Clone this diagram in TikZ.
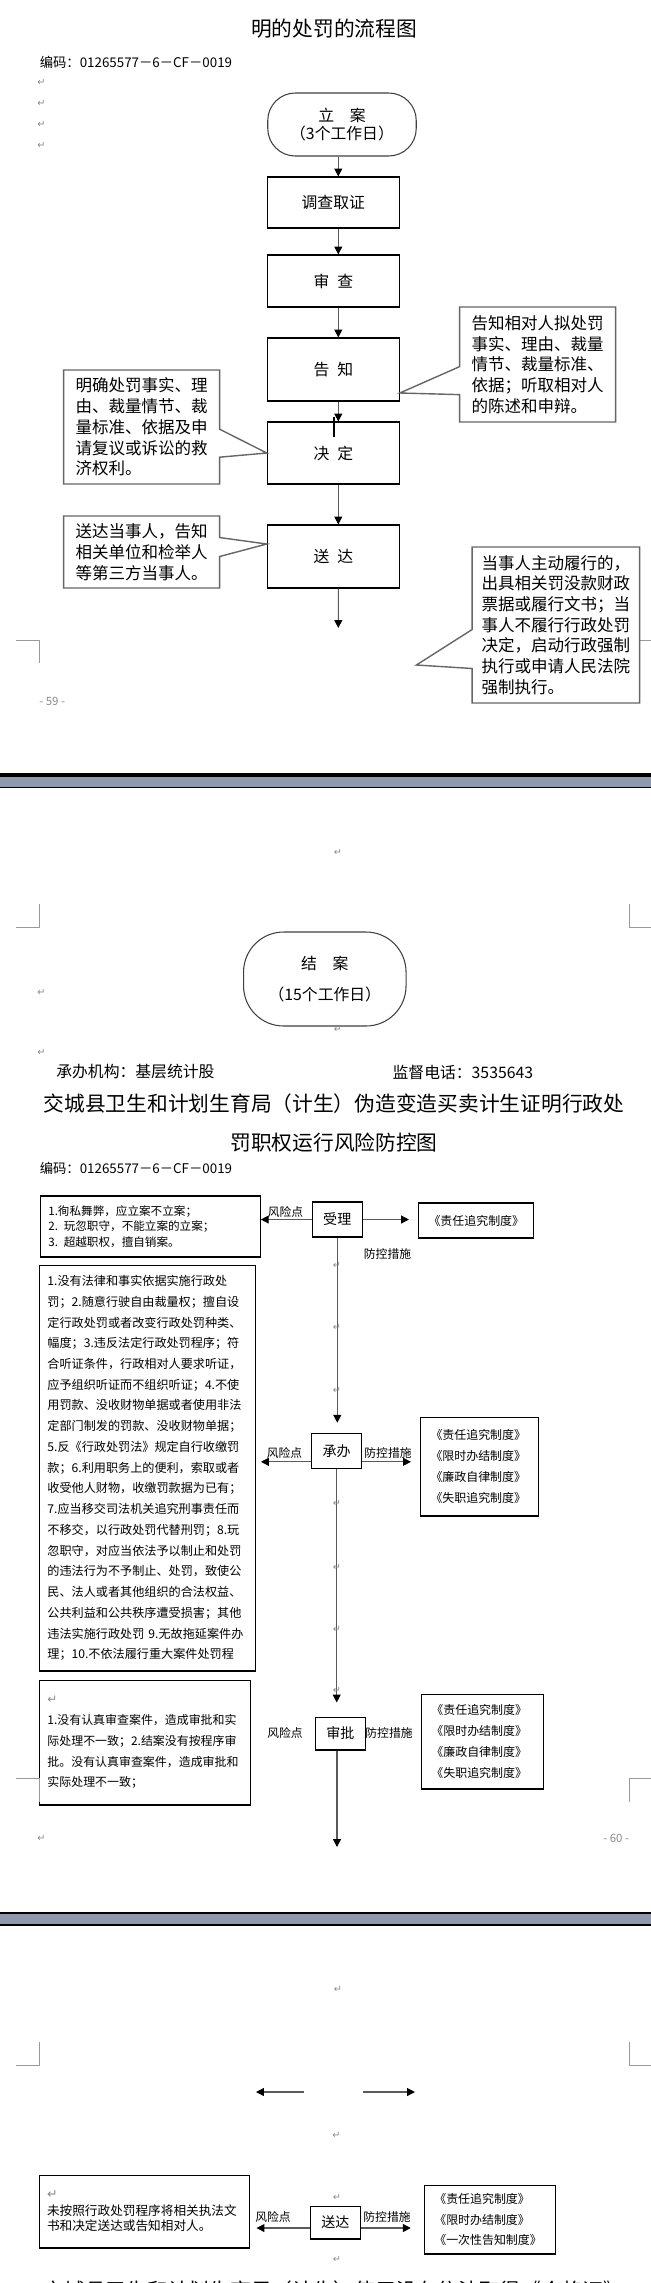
\documentclass[tikz,border=0pt]{standalone}
\usepackage{fontspec}
\setmainfont{Noto Sans CJK SC}
\newfontfamily\retfont{DejaVu Sans}
\usetikzlibrary{arrows.meta,positioning,shapes.callouts,calc}
\definecolor{pgline}{HTML}{5A5A5A}
\definecolor{pgband}{HTML}{8F99AD}
\definecolor{retgray}{HTML}{8A8A8A}
\definecolor{cropgray}{HTML}{9A9A9A}
\newcommand{\retmark}{{\retfont ↵}}
\tikzset{
  flowbox/.style={draw=black, line width=0.6pt, minimum width=2.64cm,
    align=center, font=\fontsize{9}{10.5}\selectfont, inner sep=1pt},
  endbox/.style={draw=black!75, line width=0.6pt, align=center,
    font=\fontsize{9}{10.5}\selectfont},
  flowarr/.style={draw=pgline, line width=0.6pt,
    -{Triangle[length=4.5pt,width=4.5pt,color=black]}},
  callbox/.style={rectangle callout, draw=black!60, line width=0.8pt,
    fill=white, align=left, font=\fontsize{9.4}{11.8}\selectfont, inner sep=2pt},
  riskbox/.style={draw=black, line width=0.6pt, align=left,
    inner xsep=0.16cm, inner ysep=2pt},
  ctrlbox/.style={draw=black, line width=0.6pt, align=left,
    inner xsep=0.2cm, font=\fontsize{6.8}{12}\selectfont},
  stepbox/.style={draw=black, line width=0.6pt, minimum width=1cm,
    font=\fontsize{8}{10}\selectfont, inner sep=1pt},
  riskarr/.style={draw=pgline, line width=0.7pt,
    -{Triangle[length=4.5pt,width=4.5pt,color=black]}},
  tag/.style={font=\fontsize{6.7}{8}\selectfont, inner sep=0pt},
  retm/.style={font=\fontsize{5.5}{6}\selectfont, text=retgray, inner sep=0pt},
  cropmark/.style={draw=cropgray, line width=0.4pt},
  headtext/.style={font=\fontsize{8}{10}\selectfont, inner sep=0pt, anchor=west},
  titletext/.style={font=\fontsize{11.8}{14}\selectfont, inner sep=0pt}
}
\begin{document}
\begin{tikzpicture}[x=0.02cm, y=-0.02cm]
  \useasboundingbox (0,0) rectangle (651,2283);
  \fill[white] (0,0) rectangle (651,2283);
  \clip (0,0) rectangle (651,2283);

  % page 59: flow chart
  \node[titletext] (title1) at (334,29) {明的处罚的流程图};
  \node[headtext, font=\fontsize{7.6}{10}\selectfont] (code1) at (39.4,62)
    {编码：01265577－6－CF－0019};

  \node[endbox, minimum width=2.97cm, minimum height=1.26cm,
        rounded corners=0.55cm] (lian) at (342,124.5) {立　案\\（3个工作日）};
  \node[flowbox, minimum height=1.02cm] (dc) at (333.3,202.5) {调查取证};
  \node[flowbox, minimum height=1.04cm] (sc) at (333.3,281) {审\enspace 查};
  \node[flowbox, minimum height=1.26cm] (gz) at (333.3,369.5) {告\enspace 知};
  \node[flowbox, minimum height=1.24cm] (jd) at (333.3,453) {决\enspace 定};
  \node[flowbox, minimum height=1.26cm] (sd) at (333.3,556.5) {送\enspace 达};
  \coordinate (sdend) at (338.3,628);

  \draw[flowarr] ([xshift=0.1cm]dc.north |- lian.south) -- ([xshift=0.1cm]dc.north);
  \draw[flowarr] ([xshift=0.1cm]dc.south) -- ([xshift=0.1cm]sc.north);
  \draw[flowarr] ([xshift=0.1cm]sc.south) -- ([xshift=0.1cm]gz.north);
  \draw[flowarr] ([xshift=0.1cm]gz.south) -- ([xshift=0.1cm]jd.north);
  \draw[flowarr] ([xshift=0.1cm]jd.south) -- ([xshift=0.1cm]sd.north);
  \draw[flowarr] ([xshift=0.1cm]sd.south) -- (sdend);
  \draw[black, line width=1pt] (334,417) -- (334,437);

  % crop marks, bottom of page 59
  \draw[cropmark] (16,640) -- (39.4,640) -- (39.4,663);
  \draw[cropmark] (651,640) -- (629.7,640) -- (629.7,663);

  \node[callbox, minimum width=3.12cm, minimum height=2.3cm,
        callout absolute pointer={([yshift=-0.47cm]gz.east)},
        callout pointer width=0.56cm] (cgz) at (537.6,364.5)
    {告知相对人拟处罚\\事实、理由、裁量\\情节、裁量标准、\\依据；听取相对人\\的陈述和申辩。};
  \node[callbox, minimum width=3.12cm, minimum height=2.28cm,
        callout absolute pointer={(jd.west)},
        callout pointer width=0.56cm] (cjd) at (141.6,427)
    {明确处罚事实、理\\由、裁量情节、裁\\量标准、依据及申\\请复议或诉讼的救\\济权利。};
  \node[callbox, minimum width=3.12cm, minimum height=1.44cm,
        callout absolute pointer={([yshift=0.25cm]sd.west)},
        callout pointer width=0.38cm] (csd) at (141.6,552)
    {送达当事人，告知\\相关单位和检举人\\等第三方当事人。};
  \coordinate (zxtip) at (416.4,665);
  \node[callbox, minimum width=3.35cm, minimum height=3.12cm,
        callout absolute pointer={(zxtip)},
        callout pointer width=0.78cm] (czx) at (555.9,625)
    {当事人主动履行的，\\出具相关罚没款财政\\票据或履行文书；当\\事人不履行行政处罚\\决定，启动行政强制\\执行或申请人民法院\\强制执行。};

  \node[headtext, text=retgray, font=\fontsize{6.5}{8}\selectfont] (pn59) at (39,701) {- 59 -};

  % page break
  \fill[black] (0,773.3) rectangle (651,776.7);
  \fill[pgband] (0,776.7) rectangle (651,786.7);
  \draw[black, line width=0.5pt] (0,787.2) -- (651,787.2);

  % page 60
  \draw[cropmark] (16,927) -- (39.4,927) -- (39.4,904);
  \draw[cropmark] (651,927) -- (629.7,927) -- (629.7,904);

  \node[endbox, minimum width=3.25cm, minimum height=1.88cm,
        rounded corners=0.8cm] (jiean) at (324.8,979) {结　案\\[7.5pt]（15个工作日）};

  \node[headtext, font=\fontsize{9}{11}\selectfont] (unit) at (56,1072) {承办机构：基层统计股};
  \node[headtext, font=\fontsize{9}{11}\selectfont] (phone) at (392.3,1072) {监督电话：3535643};
  \node[titletext] (title2a) at (334,1104)
    {交城县卫生和计划生育局（计生）伪造变造买卖计生证明行政处};
  \node[titletext] (title2b) at (334,1143) {罚职权运行风险防控图};
  \node[headtext, font=\fontsize{7.6}{10}\selectfont] (code2) at (39.4,1168)
    {编码：01265577－6－CF－0019};

  % risk chart
  \node[stepbox, minimum height=0.7cm] (shouli) at (337.3,1219.5) {受理};
  \node[stepbox, minimum height=0.7cm] (chengban) at (336.7,1450.8) {承办};
  \node[stepbox, minimum height=0.66cm] (shenpi) at (340.4,1733.5) {审批};
  \coordinate (spend) at (337,1847);

  \node[riskbox, text width=4.08cm, minimum height=1.22cm,
        font=\fontsize{6.6}{8.8}\selectfont] (r1) at (150.3,1226.5)
    {1.徇私舞弊，应立案不立案；\\2.\enspace 玩忽职守，不能立案的立案；\\3.\enspace 超越职权，擅自销案。};
  \node[riskbox, text width=4.0cm, minimum height=8.12cm,
        font=\fontsize{6.9}{11.8}\selectfont] (r2) at (147.4,1468)
    {1.没有法律和事实依据实施行政处\\罚；2.随意行驶自由裁量权；擅自设\\定行政处罚或者改变行政处罚种类、\\幅度；3.违反法定行政处罚程序；符\\合听证条件，行政相对人要求听证，\\应予组织听证而不组织听证；4.不使\\用罚款、没收财物单据或者使用非法\\定部门制发的罚款、没收财物单据；\\5.反《行政处罚法》规定自行收缴罚\\款；6.利用职务上的便利，索取或者\\收受他人财物，收缴罚款据为已有；\\7.应当移交司法机关追究刑事责任而\\不移交，以行政处罚代替刑罚；8.玩\\忽职守，对应当依法予以制止和处罚\\的违法行为不予制止、处罚，致使公\\民、法人或者其他组织的合法权益、\\公共利益和公共秩序遭受损害；其他\\违法实施行政处罚~9.无故拖延案件办\\理；10.不依法履行重大案件处罚程};
  \node[riskbox, text width=3.9cm, minimum height=2.5cm,
        font=\fontsize{6.8}{11.8}\selectfont] (r3) at (144.9,1742.5)
    {{\color{retgray}\retmark}\\1.没有认真审查案件，造成审批和实\\际处理不一致；2.结案没有按程序审\\批。没有认真审查案件，造成审批和\\实际处理不一致；};

  \node[ctrlbox, text width=1.9cm, minimum height=0.7cm] (c1) at (476,1220.5)
    {《责任追究制度》};
  \node[ctrlbox, text width=1.96cm, minimum height=1.98cm] (c2) at (479.5,1466.5)
    {《责任追究制度》\\《限时办结制度》\\《廉政自律制度》\\《失职追究制度》};
  \node[ctrlbox, text width=2.04cm, minimum height=1.9cm] (c3) at (482.4,1741.5)
    {《责任追究制度》\\《限时办结制度》\\《廉政自律制度》\\《失职追究制度》};

  \draw[riskarr] (shouli.west) -- (shouli.west -| r1.east);
  \draw[riskarr, shorten >=0.18cm] (shouli.east) -- (shouli.east -| c1.west);
  \draw[riskarr, shorten >=0.2cm] (shouli.south) -- (shouli.south |- chengban.north);
  \draw[riskarr, shorten >=0.1cm] ([yshift=-0.22cm]chengban.west)
    -- ([yshift=-0.22cm]chengban.west -| r2.east);
  \draw[riskarr, shorten >=0.18cm] ([yshift=-0.22cm]chengban.east)
    -- ([yshift=-0.22cm]chengban.east -| c2.west);
  \draw[riskarr, shorten >=0.28cm] (chengban.south) -- (chengban.south |- shenpi.north);
  \draw[riskarr] (shenpi.south -| spend) -- (spend);

  \node[tag] (risk1) at (285.5,1212) {风险点};
  \node[tag] (ctrl1) at (387.5,1254) {防控措施};
  \node[tag] (risk2) at (284.5,1452.7) {风险点};
  \node[tag] (ctrl2) at (388,1452.7) {防控措施};
  \node[tag] (risk3) at (285,1733) {风险点};
  \node[tag] (ctrl3) at (389,1733) {防控措施};

  \draw[cropmark] (16,1778) -- (39.4,1778) -- (39.4,1802);
  \draw[cropmark] (651,1778) -- (629.7,1778) -- (629.7,1802);
  \node[headtext, text=retgray, font=\fontsize{6.5}{8}\selectfont] (pn60) at (603,1838) {- 60 -};

  % page break
  \fill[black] (0,1911.7) rectangle (651,1914);
  \fill[pgband] (0,1914) rectangle (651,1924.3);
  \fill[black] (0,1924.3) rectangle (651,1925.7);

  % page 61
  \draw[cropmark] (16,2065) -- (39.4,2065) -- (39.4,2042);
  \draw[cropmark] (651,2065) -- (629.7,2065) -- (629.7,2042);

  \coordinate (fa1) at (304,2092);
  \coordinate (fa2) at (256,2092);
  \coordinate (fb1) at (363,2092);
  \coordinate (fb2) at (415,2092);
  \draw[riskarr] (fa1) -- (fa2);
  \draw[riskarr] (fb1) -- (fb2);

  \node[stepbox, minimum height=0.66cm] (songda) at (335.4,2222.5) {送达};
  \node[riskbox, text width=3.9cm, minimum height=1.46cm,
        inner xsep=0.15cm, font=\fontsize{7.2}{8.6}\selectfont] (r4) at (144.5,2211.5)
    {{\color{retgray}\retmark}\\[1pt]未按照行政处罚程序将相关执法文\\书和决定送达或告知相对人。};
  \node[ctrlbox, text width=2.22cm, minimum height=1.38cm,
        font=\fontsize{6.8}{11.6}\selectfont] (c4) at (489.8,2219.5)
    {《责任追究制度》\\《限时办结制度》\\《一次性告知制度》};
  \draw[riskarr, shorten >=0.13cm] ([yshift=-0.11cm]songda.west)
    -- ([yshift=-0.11cm]songda.west -| r4.east);
  \draw[riskarr, shorten >=0.26cm] ([yshift=-0.11cm]songda.east)
    -- ([yshift=-0.11cm]songda.east -| c4.west);
  \node[tag] (risk4) at (273,2217) {风险点};
  \node[tag] (ctrl4) at (387,2217) {防控措施};

  \node[titletext] (title3) at (334,2291)
    {交城县卫生和计划生育局（计生）使用没有依法取得《合格证》};

  % paragraph marks
  \foreach \x/\y [count=\i] in {41.5/82, 41.5/103, 41.5/124, 41.5/145,
      338/852, 41.5/992, 338/1029, 41.5/1052,
      337/1265, 337/1327, 337/1390, 337/1503, 337/1567, 337/1629, 337/1690,
      41.5/1838, 338/1989, 336.5/2135, 337/2197, 337/2259}
    \node[retm] (ret\i) at (\x,\y) {\retmark};
\end{tikzpicture}
\end{document}
